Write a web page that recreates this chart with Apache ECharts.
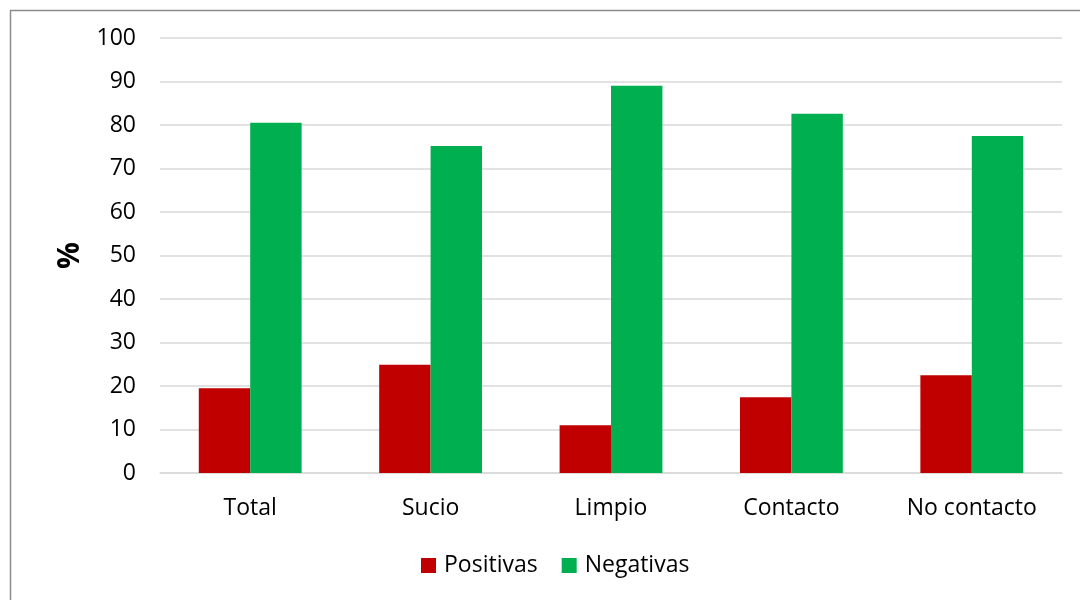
<!DOCTYPE html>
<html>
<head>
<meta charset="utf-8">
<script src="https://cdn.jsdelivr.net/npm/echarts@6/dist/echarts.min.js"></script>
<style>
  html, body { margin: 0; padding: 0; background: #fff; }
  #chart { width: 1080px; height: 600px; }
</style>
</head>
<body>
<div id="chart"></div>
<script>
const categories = ['Total', 'Sucio', 'Limpio', 'Contacto', 'No contacto'];
const positivas = [19.5, 24.9, 11.0, 17.4, 22.5];
const negativas = [80.5, 75.2, 89.0, 82.6, 77.5];
const yTicks = [0, 10, 20, 30, 40, 50, 60, 70, 80, 90, 100];

const font = '"Open Sans", Calibri, sans-serif';
const chart = echarts.init(document.getElementById('chart'));

chart.setOption({
  animation: false,
  textStyle: { fontFamily: font },
  graphic: [{
    type: 'rect',
    left: 8, top: 8,
    shape: { width: 1090, height: 610 },
    style: { fill: 'none', stroke: '#8c8c8c', lineWidth: 1.5 }
  }],
  grid: { left: 160, right: 18, top: 38, bottom: 127 },
  legend: {
    data: ['Positivas', 'Negativas'],
    bottom: 18,
    left: 416,
    itemWidth: 15,
    itemHeight: 15,
    itemGap: 24,
    icon: 'rect',
    textStyle: { fontSize: 23, color: '#000', fontFamily: font, padding: [0, 0, 0, 3] }
  },
  xAxis: {
    type: 'category',
    data: categories,
    axisLine: { lineStyle: { color: '#d9d9d9', width: 1.5 } },
    axisTick: { show: false },
    axisLabel: { fontSize: 23, color: '#000', margin: 24, fontFamily: font }
  },
  yAxis: {
    type: 'value',
    min: yTicks[0],
    max: yTicks[yTicks.length - 1],
    interval: 10,
    name: '%',
    nameLocation: 'middle',
    nameGap: 75,
    nameRotate: 90,
    nameTextStyle: { fontSize: 30, fontWeight: 'bold', color: '#000', fontFamily: font },
    axisLine: { show: false },
    axisTick: { show: false },
    axisLabel: { fontSize: 23, color: '#000', margin: 24, fontFamily: font },
    splitLine: { lineStyle: { color: '#d9d9d9', width: 1.5 } }
  },
  series: [
    {
      name: 'Positivas',
      type: 'bar',
      data: positivas,
      barGap: '0%',
      barCategoryGap: '43%',
      itemStyle: { color: '#c00000' }
    },
    {
      name: 'Negativas',
      type: 'bar',
      data: negativas,
      barGap: '0%',
      barCategoryGap: '43%',
      itemStyle: { color: '#00b050' }
    }
  ]
});
</script>
</body>
</html>
